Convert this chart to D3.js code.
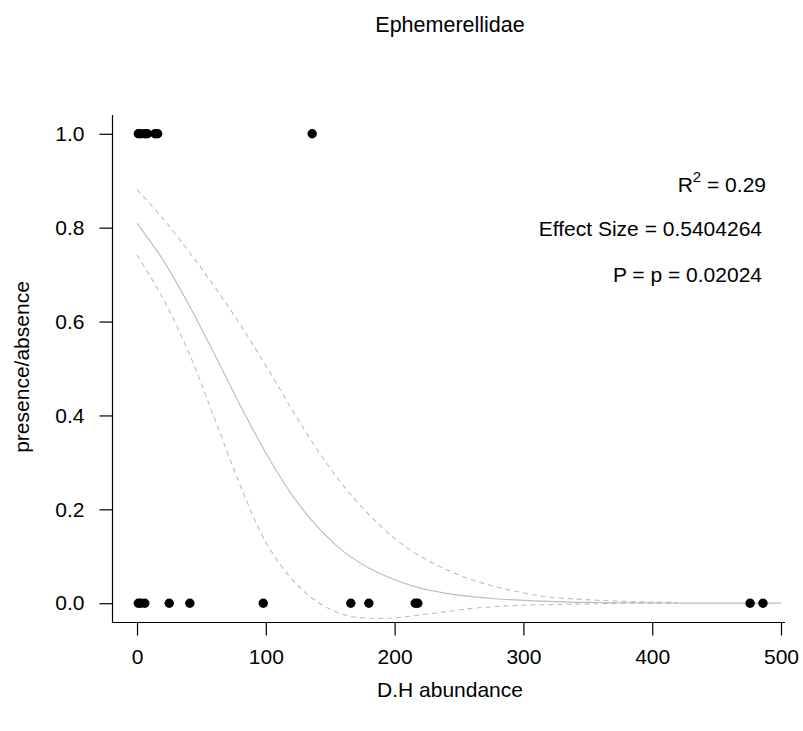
<!DOCTYPE html>
<html>
<head>
<meta charset="utf-8">
<script src="https://cdn.jsdelivr.net/npm/d3@7"></script>
<style>
  body { margin: 0; background: #fff; }
  svg { font-family: "Liberation Sans", Arial, sans-serif; }
</style>
</head>
<body>
<div id="chart"></div>
<script>
// Observed points (D.H abundance vs presence/absence)
const abundance = [1, 3, 6, 8, 14, 16, 136, 1, 3, 6, 25, 41, 98, 166, 180, 216, 218, 476, 486];
const presence  = [1, 1, 1, 1, 1, 1, 1, 0, 0, 0, 0, 0, 0, 0, 0, 0, 0, 0, 0];

// Fitted curve
const fitX = [0, 20, 40, 60, 80, 100, 120, 140, 160, 180, 200, 220, 240, 260, 280, 300, 320, 340, 360, 380, 400, 420, 440, 460, 480, 500];
const fitP = [0.809, 0.732, 0.637, 0.531, 0.422, 0.320, 0.232, 0.163, 0.111, 0.075, 0.050, 0.032, 0.021, 0.014, 0.009, 0.006, 0.004, 0.002, 0.0015, 0.001, 0.0006, 0.0004, 0.0002, 0.0001, 0.0001, 0.0];

// Confidence band (dashed)
const bandX = [0, 20, 40, 60, 80, 100, 120, 140, 160, 180, 200, 220, 240, 260, 280, 300, 320, 340, 360, 380, 400, 420];
const upperP = [0.881, 0.820, 0.750, 0.675, 0.594, 0.506, 0.414, 0.327, 0.251, 0.189, 0.138, 0.100, 0.072, 0.050, 0.034, 0.022, 0.013, 0.009, 0.006, 0.004, 0.0025, 0.0015];
const lowerP = [0.742, 0.650, 0.535, 0.395, 0.252, 0.130, 0.052, 0.003, -0.024, -0.032, -0.031, -0.025, -0.018, -0.011, -0.007, -0.004, -0.003, -0.002, -0.001, -0.0006, -0.0003, -0.0002];

const xTicks = [0, 100, 200, 300, 400, 500];
const yTicks = [0, 0.2, 0.4, 0.6, 0.8, 1.0];

const statLines = ["Effect Size = 0.5404264", "P = p = 0.02024"];

const W = 803, H = 731;
const plot = { left: 112, right: 785, top: 115, bottom: 622 };

const svg = d3.select("#chart")
  .append("svg")
  .attr("width", W)
  .attr("height", H);

// R style: 4% padding round the data range
const x = d3.scaleLinear()
  .domain([-19.44, 505.44])
  .range([plot.left, 788]);

const y = d3.scaleLinear()
  .domain([-0.04, 1.04])
  .range([plot.bottom, plot.top]);

const fs = 21;

// L shaped box
svg.append("path")
  .attr("d", `M${plot.left + 0.5},${plot.top}V${plot.bottom + 0.5}H${plot.right}`)
  .attr("fill", "none")
  .attr("stroke", "#000")
  .attr("stroke-width", 1.2);

// X axis ticks + labels
const xg = svg.append("g")
  .attr("transform", `translate(0,${plot.bottom + 0.5})`)
  .call(d3.axisBottom(x).tickValues(xTicks).tickSize(13).tickPadding(14).tickFormat(d3.format("d")));
xg.select(".domain").remove();
xg.selectAll("line").attr("stroke", "#000").attr("stroke-width", 1.2);
xg.selectAll("text")
  .attr("fill", "#000")
  .style("font-size", fs + "px")
  .style("font-family", "Liberation Sans, Arial, sans-serif");

// Y axis ticks + labels
const yg = svg.append("g")
  .attr("transform", `translate(${plot.left + 0.5},0)`)
  .call(d3.axisLeft(y).tickValues(yTicks).tickSize(13).tickPadding(15).tickFormat(d3.format(".1f")));
yg.select(".domain").remove();
yg.selectAll("line").attr("stroke", "#000").attr("stroke-width", 1.2);
yg.selectAll("text")
  .attr("fill", "#000")
  .style("font-size", fs + "px")
  .style("font-family", "Liberation Sans, Arial, sans-serif");

// Confidence band lines
const upperData = bandX.map((v, i) => [v, upperP[i]]);
const lowerData = bandX.map((v, i) => [v, lowerP[i]]);
const fitData = fitX.map((v, i) => [v, fitP[i]]);

const line = d3.line()
  .x(d => x(d[0]))
  .y(d => y(d[1]))
  .curve(d3.curveCatmullRom);

[upperData, lowerData].forEach(dat => {
  svg.append("path")
    .datum(dat)
    .attr("d", line)
    .attr("fill", "none")
    .attr("stroke", "#bebebe")
    .attr("stroke-width", 1.1)
    .attr("stroke-dasharray", "5,4");
});

svg.append("path")
  .datum(fitData)
  .attr("d", line)
  .attr("fill", "none")
  .attr("stroke", "#bebebe")
  .attr("stroke-width", 1.2);

// Points
svg.selectAll("circle.pt")
  .data(abundance.map((v, i) => ({ x: v, y: presence[i] })))
  .join("circle")
  .attr("class", "pt")
  .attr("cx", d => x(d.x))
  .attr("cy", d => y(d.y))
  .attr("r", 4.7)
  .attr("fill", "#000");

// Title
svg.append("text")
  .attr("x", 450)
  .attr("y", 32)
  .attr("text-anchor", "middle")
  .style("font-size", "21.5px")
  .text("Ephemerellidae");

// Axis titles
svg.append("text")
  .attr("x", 450)
  .attr("y", 697)
  .attr("text-anchor", "middle")
  .style("font-size", fs + "px")
  .text("D.H abundance");

svg.append("text")
  .attr("transform", "rotate(-90)")
  .attr("x", -367)
  .attr("y", 29)
  .attr("text-anchor", "middle")
  .style("font-size", fs + "px")
  .text("presence/absence");

// Stats text
const r2 = svg.append("text")
  .attr("x", 766)
  .attr("y", 192)
  .attr("text-anchor", "end")
  .style("font-size", fs + "px");
r2.append("tspan").text("R");
r2.append("tspan").attr("dy", -10).style("font-size", "15px").text("2");
r2.append("tspan").attr("dy", 10).text(" = 0.29");

svg.selectAll("text.stat")
  .data(statLines)
  .join("text")
  .attr("class", "stat")
  .attr("x", 762)
  .attr("y", (d, i) => 236 + i * 46)
  .attr("text-anchor", "end")
  .style("font-size", fs + "px")
  .text(d => d);
</script>
</body>
</html>
